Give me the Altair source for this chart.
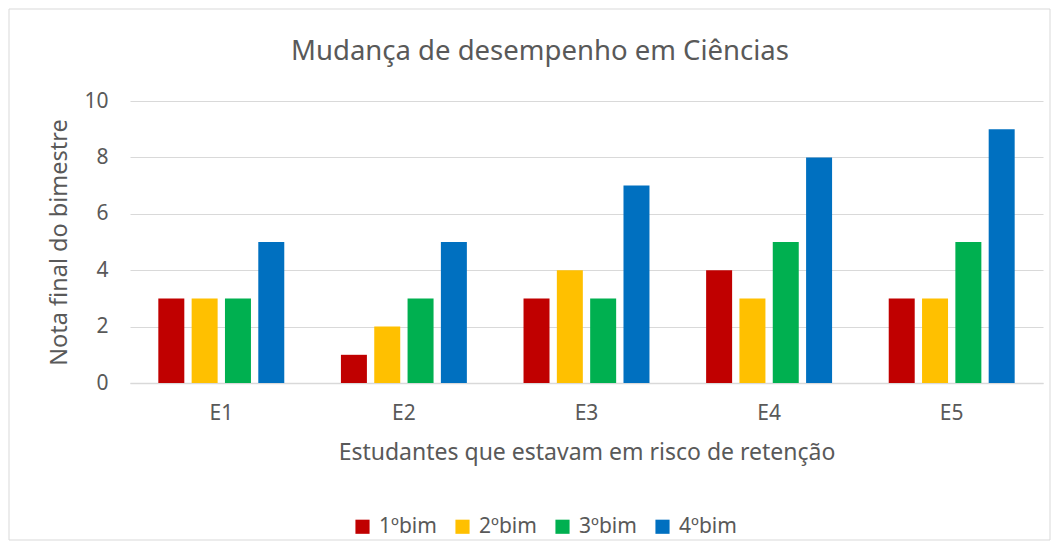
import altair as alt
import pandas as pd

categorias = ["E1", "E2", "E3", "E4", "E5"]
series = ["1ºbim", "2ºbim", "3ºbim", "4ºbim"]
bim1 = [3, 1, 3, 4, 3]
bim2 = [3, 2, 4, 3, 3]
bim3 = [3, 3, 3, 5, 5]
bim4 = [5, 5, 7, 8, 9]
cores = ["#C00000", "#FFC000", "#00B050", "#0070C0"]
titulo = "Mudança de desempenho em Ciências"

rows = []
for s, vals in zip(series, [bim1, bim2, bim3, bim4]):
    for c, v in zip(categorias, vals):
        rows.append({"Estudante": c, "Bimestre": s, "Nota": v})
df = pd.DataFrame(rows)

FONT = "Noto Sans"
TXT = "#595959"

one = pd.DataFrame({"t": [titulo]})

frame = alt.Chart(one).mark_rect(
    filled=False, stroke="#d9d9d9", strokeWidth=1
).encode(
    x=alt.value(-121), x2=alt.value(920), y=alt.value(-92), y2=alt.value(439)
)

title_mark = alt.Chart(one).mark_text(
    font=FONT, fontSize=27.5, color=TXT, align="center", baseline="middle"
).encode(x=alt.value(410), y=alt.value(-49), text="t:N")

bars = alt.Chart(df).mark_bar().encode(
    x=alt.X("Estudante:N", sort=categorias,
            scale=alt.Scale(paddingInner=0, paddingOuter=0),
            axis=alt.Axis(title="Estudantes que estavam em risco de retenção",
                          labelAngle=0, labelFontSize=21, labelColor=TXT,
                          labelPadding=19, titleFontSize=23, titleColor=TXT,
                          titleFontWeight="normal", titlePadding=18,
                          domainColor="#d9d9d9", domainWidth=1.5, ticks=False,
                          labelFont=FONT, titleFont=FONT)),
    xOffset=alt.XOffset("Bimestre:N", sort=series,
                        scale=alt.Scale(paddingInner=0.22, paddingOuter=0.85)),
    y=alt.Y("Nota:Q", scale=alt.Scale(domain=[0, 10]),
            axis=alt.Axis(title="Nota final do bimestre", values=[0, 2, 4, 6, 8, 10],
                          labelFontSize=21, labelColor=TXT, labelPadding=22,
                          titleFontSize=23.5, titleColor=TXT, titleFontWeight="normal",
                          titlePadding=12, domain=False, ticks=False,
                          gridColor="#d9d9d9", gridWidth=1.2,
                          labelFont=FONT, titleFont=FONT)),
    color=alt.Color("Bimestre:N", sort=series,
                    scale=alt.Scale(domain=series, range=cores),
                    legend=alt.Legend(title=None, orient="none", direction="horizontal",
                                      legendX=222, legendY=415,
                                      symbolType="square", symbolSize=200,
                                      symbolStrokeWidth=0,
                                      labelFontSize=21, labelColor=TXT, labelFont=FONT,
                                      columnPadding=15, labelOffset=6)),
)

chart = alt.layer(frame, title_mark, bars).properties(
    width=913, height=282,
    autosize=alt.AutoSizeParams(type="none"),
    padding={"left": 122, "top": 93, "right": 8, "bottom": 158},
).configure_view(stroke=None)

chart.save("out.html", embed_options={"renderer": "svg", "actions": False})
